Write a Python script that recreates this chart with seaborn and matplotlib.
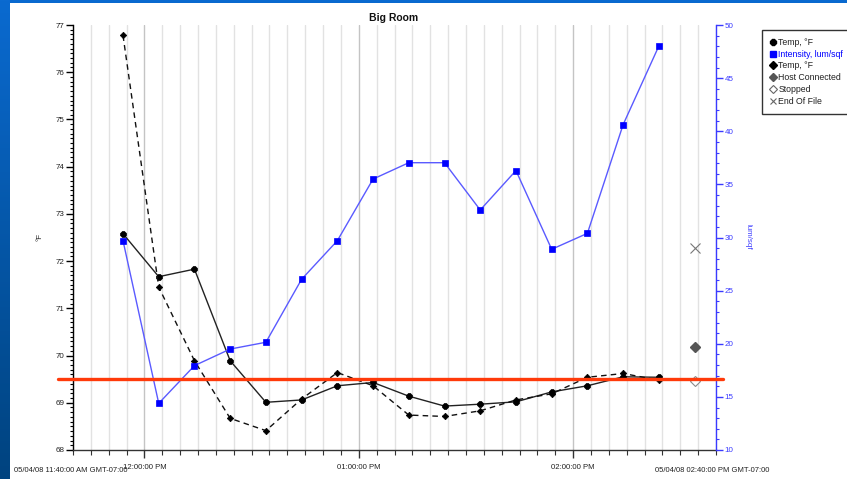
import matplotlib
matplotlib.use("Agg")
import matplotlib.pyplot as plt
import matplotlib.dates as mdates
import matplotlib.ticker as mticker
from matplotlib.lines import Line2D
from matplotlib.patches import Rectangle
from matplotlib.transforms import blended_transform_factory
import numpy as np
import pandas as pd
import seaborn as sns

# ---- data -------------------------------------------------------------
day = "2008-05-04"
sample_times = ["11:54", "12:04", "12:14", "12:24", "12:34", "12:44", "12:54", "13:04",
                "13:14", "13:24", "13:34", "13:44", "13:54", "14:04", "14:14", "14:24"]
temp_probe_a = [72.58, 71.67, 71.83, 69.89, 69.01, 69.06, 69.36, 69.43,
                69.14, 68.93, 68.97, 69.02, 69.23, 69.36, 69.55, 69.54]
temp_probe_b = [76.78, 71.45, 69.89, 68.67, 68.41, 69.08, 69.64, 69.36,
                68.74, 68.71, 68.83, 69.06, 69.19, 69.54, 69.62, 69.48]
intensity = [29.7, 14.39, 17.94, 19.5, 20.14, 26.07, 29.7, 35.5,
             37.04, 37.04, 32.59, 36.3, 28.89, 30.39, 40.62, 48.02]
event_time = "14:34"
event_names = ["Host Connected", "Stopped", "End Of File"]
event_levels = [70.18, 69.46, 72.28]
setpoint = 69.5
range_start = "11:40"
range_end = "14:40"
legend_labels = ["Temp, \u00b0F", "Intensity, lum/sqf", "Temp, \u00b0F",
                 "Host Connected", "Stopped", "End Of File"]

df = pd.DataFrame({
    "time": pd.to_datetime([f"{day} {t}" for t in sample_times]),
    "temp_a": temp_probe_a,
    "temp_b": temp_probe_b,
    "intensity": intensity,
})
t_event = pd.Timestamp(f"{day} {event_time}")
t0 = pd.Timestamp(f"{day} {range_start}")
t1 = pd.Timestamp(f"{day} {range_end}")

# ---- style ------------------------------------------------------------
sns.set_theme(style="white")
plt.rcParams["font.family"] = ["Liberation Sans", "DejaVu Sans"]
plt.rcParams["axes.unicode_minus"] = False

W, H = 847, 479
fig = plt.figure(figsize=(W / 100, H / 100), dpi=100)

# blue frame with a white panel
bg = fig.add_axes([0, 0, 1, 1], zorder=-10)
bg.set_xlim(0, W)
bg.set_ylim(H, 0)
bg.axis("off")
grad = np.linspace(0, 1, 256).reshape(-1, 1)
bg.imshow(grad, extent=(0, W, H, 0), aspect="auto",
          cmap=matplotlib.colors.LinearSegmentedColormap.from_list("frame", ["#0a6ad0", "#00437f"]))
bg.add_patch(Rectangle((10, 3), W - 10, H - 3, facecolor="white", edgecolor="none"))

# ---- main axes ---------------------------------------------------------
ax = fig.add_axes([73 / W, 1 - 450 / H, 643 / W, 425 / H])
ax.set_facecolor("none")
ax2 = ax.twinx()

sns.lineplot(data=df, x="time", y="temp_a", ax=ax, color="#222222", linewidth=1.0,
             marker="8", markersize=4.5, markerfacecolor="black", markeredgecolor="black",
             markeredgewidth=0.5, zorder=4)
sns.lineplot(data=df, x="time", y="temp_b", ax=ax, color="#111111", linewidth=1.0,
             linestyle=(0, (4, 3)), marker="D", markersize=3.3, markerfacecolor="black",
             markeredgecolor="black", markeredgewidth=0.5, zorder=4)

ax.plot([t_event], [event_levels[0]], marker="D", markersize=5, color="#555555",
        markeredgecolor="#555555", linestyle="none", zorder=5)
ax.plot([t_event], [event_levels[1]], marker="D", markersize=5, markerfacecolor="white",
        markeredgecolor="#8a8a8a", markeredgewidth=0.8, linestyle="none", zorder=5)
ax.plot([t_event], [event_levels[2]], marker="x", markersize=7, color="#777777",
        markeredgewidth=0.8, linestyle="none", zorder=5)

sns.lineplot(data=df, x="time", y="intensity", ax=ax2, color="#5a5aff", linewidth=1.0,
             marker="s", markersize=5, markerfacecolor="#0000ff", markeredgecolor="#0000ff",
             markeredgewidth=0.5, zorder=3)

# setpoint line across the chart
red_tf = blended_transform_factory(ax2.transAxes, ax.transData)
ax2.plot([-0.0235, 1.011], [setpoint, setpoint], color="#ff3a0a", linewidth=2.4,
         transform=red_tf, clip_on=False, zorder=6)

# ---- scales & ticks -----------------------------------------------------
ax.set_xlim(t0, t1)
ax.set_ylim(68, 77)
ax2.set_ylim(10, 50)

ax.xaxis.set_major_locator(mdates.HourLocator())
ax.xaxis.set_major_formatter(mdates.DateFormatter("%I:%M:%S %p"))
ax.xaxis.set_minor_locator(mdates.MinuteLocator(byminute=range(0, 60, 5)))
ax.yaxis.set_major_locator(mticker.MultipleLocator(1))
ax.yaxis.set_minor_locator(mticker.MultipleLocator(0.1))
ax2.yaxis.set_major_locator(mticker.MultipleLocator(5))
ax2.yaxis.set_minor_locator(mticker.MultipleLocator(1))

ax.grid(which="minor", axis="x", color="#e2e2e2", linewidth=1.0)
ax.grid(which="major", axis="x", color="#c4c4c4", linewidth=1.0)
ax.grid(which="both", axis="y", visible=False)
ax2.grid(False)
ax.set_axisbelow(True)

ax.tick_params(axis="y", which="major", left=True, length=5, width=1, color="black",
               labelsize=5.8, pad=1, labelcolor="#222222")
ax.tick_params(axis="y", which="minor", left=True, length=2.5, width=0.8, color="black")
ax.tick_params(axis="x", which="major", bottom=True, length=6, width=1, color="#333333",
               labelsize=5.6, pad=4, labelcolor="#222222")
ax.tick_params(axis="x", which="minor", bottom=True, length=3.5, width=0.8, color="#333333")
ax2.tick_params(axis="y", which="major", right=True, length=5, width=1, color="#3a3aff",
                labelsize=5.8, pad=1, labelcolor="#3a3aff")
ax2.tick_params(axis="y", which="minor", right=True, length=2.5, width=0.8, color="#3a3aff")

for s in ("top", "right"):
    ax.spines[s].set_visible(False)
for s in ("top", "left", "bottom"):
    ax2.spines[s].set_visible(False)
ax.spines["left"].set_color("black")
ax.spines["bottom"].set_color("#333333")
ax.spines["left"].set_linewidth(1)
ax.spines["bottom"].set_linewidth(1)
ax2.spines["right"].set_color("#3a3aff")
ax2.spines["right"].set_linewidth(1)

ax.set_xlabel("")
ax.set_ylabel("")
ax2.set_ylabel("")

# ---- text ---------------------------------------------------------------
fig.text(394 / W, 1 - 18 / H, "Big Room", ha="center", va="center",
         fontsize=7.5, fontweight="bold", color="#111111")
fig.text(40 / W, 1 - 237 / H, "\u00b0F", ha="center", va="center", rotation=90,
         fontsize=5.8, color="#222222")
fig.text(748 / W, 1 - 237 / H, "lum/sqf", ha="center", va="center", rotation=270,
         fontsize=5.8, color="#3a3aff")
fig.text(14 / W, 1 - 470 / H, "05/04/08 11:40:00 AM GMT-07:00", ha="left", va="center",
         fontsize=5.5, color="#222222")
fig.text(655 / W, 1 - 470 / H, "05/04/08 02:40:00 PM GMT-07:00", ha="left", va="center",
         fontsize=5.5, color="#222222")

# ---- legend -------------------------------------------------------------
handles = [
    Line2D([], [], linestyle="none", marker="8", markersize=4.5, color="black"),
    Line2D([], [], linestyle="none", marker="s", markersize=4.5, color="#0000ff"),
    Line2D([], [], linestyle="none", marker="D", markersize=3.6, color="black"),
    Line2D([], [], linestyle="none", marker="D", markersize=3.6, color="#555555"),
    Line2D([], [], linestyle="none", marker="D", markersize=3.6, markerfacecolor="white",
           markeredgecolor="#666666", markeredgewidth=0.8),
    Line2D([], [], linestyle="none", marker="x", markersize=5, color="#666666",
           markeredgewidth=0.8),
]
leg = fig.legend(handles, legend_labels, loc="upper left",
                 bbox_to_anchor=(762 / W, 1 - 30 / H), frameon=True, fancybox=False,
                 edgecolor="black", fontsize=6.3, handlelength=0.6, handletextpad=0.35,
                 labelspacing=0.32, borderpad=0.9, borderaxespad=0)
leg.get_frame().set_linewidth(1.0)
for i, txt in enumerate(leg.get_texts()):
    txt.set_color("#0000ff" if i == 1 else "#222222")

fig.savefig("out.png", dpi=100)
